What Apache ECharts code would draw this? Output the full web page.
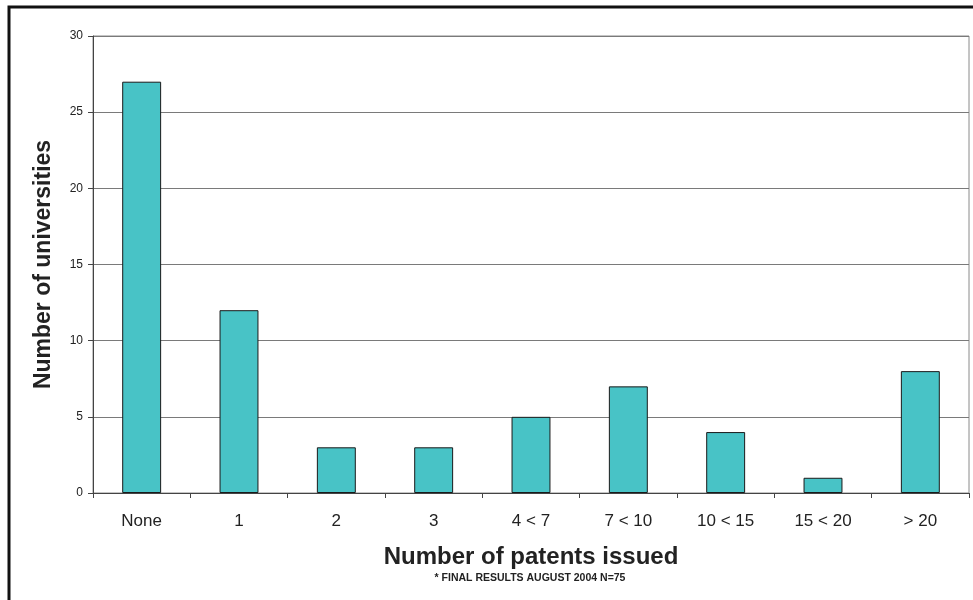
<!DOCTYPE html>
<html>
<head>
<meta charset="utf-8">
<script src="https://cdn.jsdelivr.net/npm/echarts@6/dist/echarts.min.js"></script>
<style>
  html, body { margin: 0; padding: 0; background: #fff; }
  #chart { width: 973px; height: 600px; }
</style>
</head>
<body>
<div id="chart"></div>
<script>
// Patent bins and how many universities fall in each
const categories = ['None', '1', '2', '3', '4 < 7', '7 < 10', '10 < 15', '15 < 20', '> 20'];
const universities = [27, 12, 3, 3, 5, 7, 4, 1, 8];
const yTicks = [0, 5, 10, 15, 20, 25, 30];

const FONT = '"Liberation Sans", Arial, sans-serif';
const chart = echarts.init(document.getElementById('chart'), null, { renderer: 'canvas' });

chart.setOption({
  animation: false,
  backgroundColor: '#ffffff',
  textStyle: { fontFamily: FONT },
  grid: {
    left: 93, top: 36, right: 4, bottom: 107,
    show: true, borderColor: '#8a8a8a', borderWidth: 1, backgroundColor: 'transparent'
  },
  xAxis: {
    type: 'category',
    data: categories,
    boundaryGap: true,
    axisLine: { lineStyle: { color: '#444', width: 1 } },
    axisTick: { show: true, alignWithLabel: false, length: 5, lineStyle: { color: '#444' } },
    axisLabel: { color: '#222', fontSize: 17, margin: 20, fontFamily: FONT, interval: 0 },
    name: 'Number of patents issued',
    nameLocation: 'middle',
    nameGap: 52,
    nameTextStyle: { color: '#222', fontSize: 24, fontWeight: 'bold', fontFamily: FONT }
  },
  yAxis: {
    type: 'value',
    min: yTicks[0],
    max: yTicks[yTicks.length - 1],
    interval: 5,
    axisLine: { show: true, lineStyle: { color: '#444', width: 1 } },
    axisTick: { show: true, length: 5, lineStyle: { color: '#444' } },
    axisLabel: { color: '#222', fontSize: 12, margin: 10, fontFamily: FONT },
    splitLine: { show: true, lineStyle: { color: '#7a7a7a', width: 1 } },
    name: 'Number of universities',
    nameLocation: 'middle',
    nameGap: 38,
    nameTextStyle: { color: '#222', fontSize: 23, fontWeight: 'bold', fontFamily: FONT }
  },
  series: [{
    type: 'bar',
    data: universities,
    barWidth: '40%',
    itemStyle: { color: '#48c3c6', borderColor: '#1a1a1a', borderWidth: 1 }
  }],
  graphic: [
    {
      type: 'text',
      x: 530,
      y: 578,
      style: {
        text: '* FINAL RESULTS AUGUST 2004 N=75',
        fill: '#222', font: 'bold 10.5px ' + FONT,
        textAlign: 'center', textVerticalAlign: 'middle'
      }
    },
    {
      type: 'polyline',
      shape: { points: [[9, 600], [9, 7], [973, 7]] },
      style: { stroke: '#111', lineWidth: 3, fill: null }
    }
  ]
});
</script>
</body>
</html>
